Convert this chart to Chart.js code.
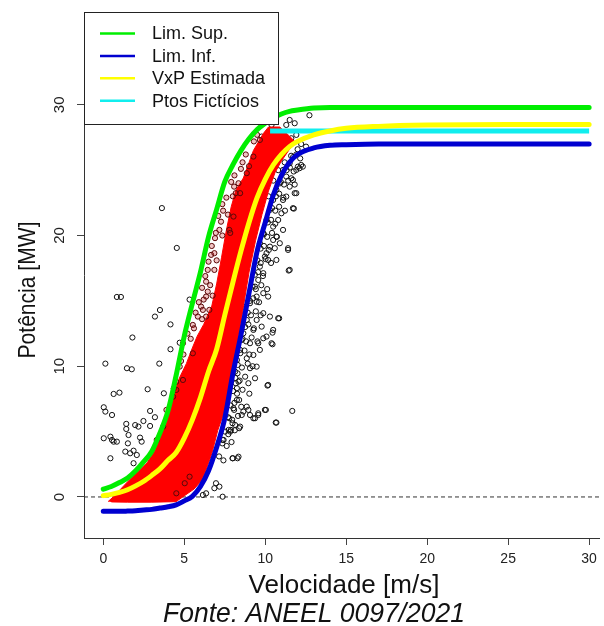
<!DOCTYPE html>
<html>
<head>
<meta charset="utf-8">
<script src="https://cdn.jsdelivr.net/npm/chart.js@4.4.1/dist/chart.umd.min.js"></script>
<style>
html,body{margin:0;padding:0;background:#fff;}
#wrap{width:604px;height:626px;position:relative;}
</style>
</head>
<body>
<div id="wrap"><canvas id="c" width="604" height="626"></canvas></div>
<script>
// ---------- data ----------
const xTicks = [0, 5, 10, 15, 20, 25, 30];
const yTicks = [0, 10, 20, 30];
const xRange = [-1.19, 30.61];
const yRange = [-3.14, 37.1];

const xTitle = 'Velocidade [m/s]';
const yTitle = 'Potência [MW]';
const caption = 'Fonte: ANEEL 0097/2021';

const seriesLabels = ['Lim. Sup.', 'Lim. Inf.', 'VxP Estimada', 'Ptos Fictícios'];

const speed = [0,0.5,1,1.5,2,2.5,3,3.5,4,4.5,5,5.5,6,6.5,7,7.5,8,8.5,9,9.5,10,10.5,11,11.5,12,13,14,15,17,20,25,30];
const limSup = [0.6,0.8,1.1,1.45,2.0,2.7,3.5,4.9,6.6,9.3,12.3,14.8,17.2,19.9,22.0,24.1,25.4,26.5,27.4,28.1,28.6,29.0,29.3,29.5,29.6,29.75,29.8,29.8,29.8,29.8,29.8,29.8];
const limInf = [-1.1,-1.1,-1.1,-1.08,-1.05,-1.0,-0.95,-0.85,-0.75,-0.6,-0.3,0.05,0.8,2.0,3.8,6.0,9.4,12.4,15.6,18.8,21.0,23.1,24.6,25.6,26.2,26.7,26.9,26.95,27,27,27,27];
const vxpEst = [0.1,0.2,0.35,0.55,0.85,1.2,1.65,2.15,2.8,3.4,4.5,5.9,7.6,9.6,11.3,13.9,16.4,18.8,21.0,22.9,24.3,25.4,26.2,26.8,27.2,27.7,28.0,28.2,28.35,28.45,28.5,28.5];

const ptosSpeed = [10.3, 30];
const ptosPower = [28.0, 28.0];

// red (filtered) data cloud outline, read around its edge
const bandSpeed = [0.3,0.7,1.3,2.0,2.7,3.2,3.65,4.0,4.3,4.7,5.13,5.5,5.8,6.2,6.7,7.0,7.3,7.6,7.9,8.2,8.65,9.27,9.88,10.2,10.9,11.5,11.9,
  11.5,11.0,10.6,10.2,9.8,9.4,9.0,8.75,8.5,8.2,7.9,7.5,7.07,6.7,6.3,6.04,5.6,4.9,4.5,3.0,1.5,0.5];
const bandPower = [-0.35,0.1,0.9,1.8,2.6,3.6,5.1,6.4,7.7,9.1,10.2,11.4,12.3,13.2,14.6,16.3,18.3,20.4,22.2,23.5,24.4,26.5,27.8,28.3,28.3,27.6,27.1,
  26.6,25.7,24.8,23.4,21.6,19.6,17.2,15.3,13.3,11.2,9.0,6.6,5.1,3.3,1.9,1.2,0.6,0.0,-0.36,-0.4,-0.4,-0.38];

// red points at the ragged edge of the cloud
const edgePts = [
[8.08,23.74],[7.27,21.06],[7.17,20.43],[7.78,20.43],[6.66,18.52],[6.86,17.37],[6.35,16.47],[6.45,15.71],[6.04,14.56],[6.55,14.31],[6.35,13.8],[5.53,13.16],
[8.18,23.24],[6.86,18.65],[6.45,17.37],[6.35,15.33],[6.15,14.31],[5.84,13.8],
[4.92,11.76],[5.53,10.99],[4.72,9.97],[4.92,8.95],[4.51,8.19],[4.31,7.67],[3.9,6.66],[3.7,5.38],[3.3,4.36],
[5.33,1.55],[5.03,1.05],[4.51,0.28],
[7.84,20.2],[8.04,21.45],[8.45,23.24],[8.86,24.77],[9.27,26.04],[9.67,27.31],
[4.35,8.3],[4.5,8.8],[4.8,10.4],[4.95,10.9],[5.2,12.5],[5.4,12.1],[5.6,12.9],
[5.7,14.1],[5.9,14.9],[6.2,15.1],[6.1,13.6],[6.1,16.0],[6.3,16.9],[6.6,16.2],[6.75,15.4],
[6.5,18.0],[6.7,19.2],[7.0,18.1],[6.9,19.8],[6.95,20.2],[7.1,21.5],[7.35,20.0],[7.4,21.9],
[7.35,22.4],[7.6,22.9],[7.7,21.6],[7.9,24.1],[8.1,24.6],[8.35,24.0],[8.0,23.0],
[8.6,25.6],[8.8,26.2],[9.0,25.3],[8.5,25.1],[9.3,27.2],[9.5,27.7]
];

// black open circles (all measurements)
const rawPts = [
[3.62,22.1],[4.54,19.05],[0.84,15.3],[1.09,15.3],[3.5,14.3],[3.19,13.8],[4.15,13.2],[5.33,15.1],
[1.8,12.2],[0.13,10.2],[1.46,9.85],[1.76,9.77],[3.46,10.2],[4.15,11.3],[4.72,11.8],[2.74,8.24],[0.64,7.88],[1.0,7.98],[3.74,7.93],
[0.03,6.86],[0.13,6.53],[0.54,6.27],[2.89,6.58],[3.19,6.1],[2.48,5.81],[1.42,5.59],[1.42,5.2],[1.97,5.5],[2.17,5.38],[2.89,5.43],
[0.03,4.49],[0.44,4.61],[0.54,4.36],[0.64,4.23],[0.84,4.23],[1.56,4.74],[2.27,4.54],[2.37,4.23],[1.36,3.47],[1.66,3.34],[1.87,3.54],
[2.07,3.21],[0.44,2.96],[1.87,2.58],[1.52,4.1],
[8.29,9.46],[8.18,8.7],[8.39,7.42],[8.08,6.66],[7.78,6.02],[7.98,5.64],[8.39,5.26],[7.88,5.13],[8.29,2.96],[7.98,2.96],[7.37,4.36],
[6.96,1.05],[6.86,0.67],[7.17,0.79],[6.35,0.28],[6.15,0.15],[7.37,0.02],[5.84,1.55],
[10.29,13.8],[10.86,13.67],[10.45,12.57],[10.08,12.27],[9.88,12.14],[9.57,11.76],[9.67,11.25],[10.45,11.68],[9.27,10.86],[9.06,9.85],
[9.47,9.97],[9.37,9.08],[8.96,8.7],[10.14,8.52],[8.35,8.82],[8.25,8.32],[8.25,7.42],[8.04,6.79],[8.86,6.91],[8.65,6.53],[8.55,6.27],
[9.06,6.27],[9.37,6.02],[9.57,6.27],[10.04,6.66],[11.67,6.58],[10.65,5.69],[8.45,5.38],[8.14,5.51],[7.84,5.0],[7.74,5.13],[8.0,2.96],
[8.35,3.08],[7.43,4.36],
[8.65,14.56],[9.06,14.82],[9.47,14.94],[8.86,13.54],[9.27,12.78],[8.65,12.52],[9.06,11.76],[8.45,11.25],[8.25,10.48],[8.14,9.59],
[8.86,10.61],[8.55,12.01],[9.47,13.54],[9.78,13.03],[9.88,14.06],
[12.73,29.2],[12.32,25.27],[12.12,25.15],[11.92,25.02],[11.61,24.38],[11.71,24.25],[11.51,23.74],[11.82,23.24],[11.3,22.98],[11.1,22.72],
[11.71,22.09],[11.0,21.7],[10.8,21.19],[11.1,20.43],[10.69,19.92],[10.49,19.66],[10.9,19.41],[10.29,19.15],[10.59,19.03],[11.41,18.9],
[10.08,18.65],[9.98,18.39],[10.18,18.13],[10.69,18.13],[9.67,17.62],[9.88,17.12],[9.57,16.6],[11.51,17.37],[9.37,16.09],[9.88,15.59],
[10.18,15.33],[9.47,15.33],[10.49,20.68],[10.9,23.99],[11.3,24.51],[11.1,25.02],[11.51,25.53],[10.49,22.72],[10.29,21.96],[10.08,21.19],
[9.88,20.18],[9.67,19.41],[10.69,23.49],
[11.51,28.84],[11.82,28.59],[11.3,28.46],[10.39,28.46],[9.78,27.57],[11.92,27.7],[11.61,27.44],
[11.92,23.24],[11.77,22.06],[11.41,19.03],[11.45,17.32],[10.8,13.67],[12.02,25.27],[12.22,25.4],
[10.18,8.57],[10.69,5.69],[9.98,6.66],[9.57,6.4],[9.27,6.02],[8.96,6.66],[10.39,11.76],[10.49,12.78],
[10.5,24.2],[10.8,25.0],[11.2,25.6],[11.6,26.1],[10.2,23.0],[12.0,26.6],
[7.15,3.1],[7.42,2.8],[7.35,4.1],[7.62,3.9],[7.92,4.2],[7.52,5.0],[7.72,4.8],[8.12,5.1],[7.7,6.1],[7.96,5.9],[8.32,6.2],
[7.86,7.0],[8.1,7.2],[8.52,6.9],[8.02,8.1],[8.26,7.9],[8.6,8.2],[9.02,7.9],[8.16,9.1],[8.42,8.9],[8.76,9.2],
[8.3,10.1],[8.56,9.9],[8.92,10.2],[9.22,10.0],[8.46,11.0],[8.72,11.2],[9.02,10.9],[8.6,12.1],[8.82,11.9],[9.16,12.2],[9.52,11.9],
[8.76,13.0],[8.96,13.2],[9.3,12.9],[8.92,14.1],[9.12,13.9],[9.42,14.2],[9.72,13.9],[9.06,15.0],[9.26,15.2],[9.62,14.9],
[9.22,16.1],[9.42,15.9],[9.76,16.2],[10.12,15.9],[9.36,17.0],[9.56,17.2],[9.86,16.9],[9.52,18.1],[9.72,17.9],[10.02,18.2],[10.36,17.9],
[9.72,19.0],[9.92,19.2],[10.22,18.9],[9.92,20.1],[10.12,19.9],[10.42,20.2],[10.72,19.9],[10.16,21.0],[10.36,21.2],[10.62,20.9],
[10.42,22.1],[10.62,21.9],[10.86,22.2],[11.22,21.9],[10.66,23.0],[10.86,23.2],[11.12,22.9],[10.96,24.1],[11.16,23.9],[11.42,24.2],[11.82,23.9],
[11.32,25.0],[11.52,25.2],[11.76,24.9],[11.72,26.0],[11.92,26.2],[12.16,25.9],[12.22,27.0],[12.52,26.8]
];

// ---------- styles ----------
const FONT = '"Liberation Sans", Arial, sans-serif';
const FONT_NARROW = '"Liberation Sans Narrow", "Liberation Sans", Arial, sans-serif';
const colGreen = '#00ee00', colBlue = '#0000d0', colYellow = '#ffff00', colCyan = '#11eeee';

const pairs = (xs, ys) => xs.map((x, i) => ({x: x, y: ys[i]}));
const toXY = arr => arr.map(p => ({x: p[0], y: p[1]}));

function curve(label, ys, color, order) {
  return {label, data: pairs(speed, ys), borderColor: color, backgroundColor: color, borderWidth: 5,
    pointRadius: 0, showLine: true, tension: 0.35, cubicInterpolationMode: 'monotone',
    borderCapStyle: 'round', borderJoinStyle: 'round', fill: false, order};
}

const datasets = [
  curve(seriesLabels[0], limSup, colGreen, 1),
  curve(seriesLabels[2], vxpEst, colYellow, 2),
  curve(seriesLabels[1], limInf, colBlue, 3),
  {label: seriesLabels[3], data: pairs(ptosSpeed, ptosPower), borderColor: colCyan, backgroundColor: colCyan,
    borderWidth: 5, pointRadius: 0, showLine: true, borderCapStyle: 'butt', fill: false, order: 4},
  {label: 'edge', data: toXY(edgePts), showLine: false, pointRadius: 2.6, pointBorderWidth: 1,
    pointBorderColor: '#5a0808', pointBackgroundColor: 'rgba(200,20,20,0.25)', order: 5},
  {label: 'band', data: pairs(bandSpeed, bandPower), showLine: true, borderColor: '#ff0000', backgroundColor: '#ff0000',
    borderWidth: 1, pointRadius: 0, tension: 0, fill: 'shape', order: 6},
  {label: 'raw', data: toXY(rawPts), showLine: false, pointRadius: 2.6, pointBorderWidth: 1,
    pointBorderColor: '#111', pointBackgroundColor: 'rgba(0,0,0,0)', order: 8},
  {label: 'zero', data: [{x: xRange[0], y: 0}, {x: xRange[1], y: 0}], showLine: true, borderColor: '#333',
    borderWidth: 1, borderDash: [4, 3], pointRadius: 0, fill: false, order: 10}
];

const legendItems = [
  {text: seriesLabels[0], color: colGreen},
  {text: seriesLabels[1], color: colBlue},
  {text: seriesLabels[2], color: colYellow},
  {text: seriesLabels[3], color: colCyan}
];

const decor = {
  id: 'decor',
  afterDatasetsDraw(chart) {
    const ctx = chart.ctx;
    const a = chart.chartArea;
    const L = a.left, T = a.top, W = 194, H = 112;
    ctx.save();
    ctx.fillStyle = '#fff';
    ctx.fillRect(L, T, W, H);
    ctx.strokeStyle = '#222'; ctx.lineWidth = 1;
    ctx.strokeRect(L + 0.5, T + 0.5, W, H);
    ctx.font = '18px ' + FONT;
    ctx.textBaseline = 'middle'; ctx.textAlign = 'left';
    legendItems.forEach((it, i) => {
      const y = T + 21.5 + i * 22.4;
      ctx.strokeStyle = it.color; ctx.lineWidth = 2.5;
      ctx.beginPath(); ctx.moveTo(L + 16, y); ctx.lineTo(L + 51, y); ctx.stroke();
      ctx.fillStyle = '#111';
      ctx.fillText(it.text, L + 68, y + 1);
    });
    ctx.restore();
  },
  afterDraw(chart) {
    const ctx = chart.ctx;
    const ys = chart.scales.y;
    ctx.save();
    ctx.fillStyle = '#222';
    ctx.font = '15px ' + FONT;
    ctx.textAlign = 'center'; ctx.textBaseline = 'middle';
    yTicks.forEach(v => {
      const py = ys.getPixelForValue(v);
      ctx.save(); ctx.translate(60, py); ctx.rotate(-Math.PI / 2);
      ctx.fillText(String(v), 0, 0); ctx.restore();
    });
    ctx.fillStyle = '#111';
    ctx.font = '24px ' + FONT;
    ctx.textBaseline = 'alphabetic';
    const yw = ctx.measureText(yTitle).width;
    ctx.save(); ctx.translate(35, 290); ctx.rotate(-Math.PI / 2);
    ctx.scale(137 / yw, 1);
    ctx.fillText(yTitle, 0, 0); ctx.restore();
    ctx.font = '26px ' + FONT;
    ctx.fillText(xTitle, 344, 593);
    ctx.font = 'italic 27px ' + FONT;
    const cw = ctx.measureText(caption).width;
    ctx.save(); ctx.translate(314, 622); ctx.scale(302 / cw, 1);
    ctx.fillText(caption, 0, 0); ctx.restore();
    ctx.restore();
  }
};

new Chart(document.getElementById('c'), {
  type: 'line',
  data: {datasets},
  options: {
    responsive: false,
    animation: false,
    devicePixelRatio: 1,
    events: [],
    layout: {padding: {top: 12, left: 0, right: 0, bottom: 0}},
    plugins: {legend: {display: false}, tooltip: {enabled: false}},
    scales: {
      x: {
        type: 'linear', min: xRange[0], max: xRange[1],
        afterBuildTicks: s => { s.ticks = xTicks.map(v => ({value: v})); },
        afterFit: s => { s.height = 88; },
        grid: {display: true, drawOnChartArea: false, drawTicks: true, tickLength: 7, color: '#444', lineWidth: 1},
        border: {display: true, color: '#333', width: 1},
        ticks: {font: {family: FONT_NARROW, size: 14}, color: '#222', padding: 6, maxRotation: 0, autoSkip: false}
      },
      y: {
        type: 'linear', min: yRange[0], max: yRange[1],
        afterBuildTicks: s => { s.ticks = yTicks.map(v => ({value: v})); },
        afterFit: s => { s.width = 84; },
        grid: {display: true, drawOnChartArea: false, drawTicks: true, tickLength: 7, color: '#444', lineWidth: 1},
        border: {display: true, color: '#333', width: 1},
        ticks: {display: false}
      }
    }
  },
  plugins: [decor]
});
</script>
</body>
</html>
